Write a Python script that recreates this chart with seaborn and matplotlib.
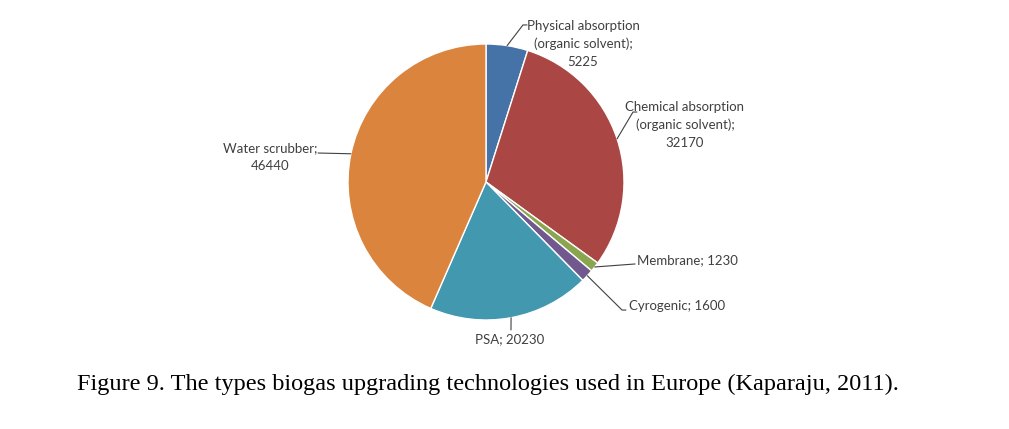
import matplotlib
matplotlib.use("Agg")

import matplotlib.pyplot as plt
import seaborn as sns
import numpy as np


# ==================================================
# Data
# ==================================================

labels = [
    "Physical absorption\n(organic solvent);\n5225",
    "Chemical absorption\n(organic solvent);\n32170",
    "Membrane; 1230",
    "Cyrogenic; 1600",
    "PSA; 20230",
    "Water scrubber;\n46440",
]

values = [5225, 32170, 1230, 1600, 20230, 46440]

colors = ["#4572A7", "#AA4643", "#89A54E", "#71588F", "#4198AF", "#DB843D"]

caption = (
    "Figure 9. The types biogas upgrading technologies "
    "used in Europe (Kaparaju, 2011)."
)


# ==================================================
# Label layout (pie radius = 1)
# text position, alignment, leader elbow points
# ==================================================

text_pos = [
    (0.703, 1.0),
    (1.442, 0.413),
    (1.094, -0.565),
    (1.036, -0.899),
    (0.174, -1.138),
    (-1.565, 0.181),
]

text_ha = ["center", "center", "left", "left", "center", "center"]

leader_pts = [
    [(0.268, 1.138), (0.297, 1.138)],
    [(1.065, 0.507), (1.094, 0.507)],
    [(1.080, -0.594)],
    [(0.986, -0.928), (1.014, -0.928)],
    [(0.181, -1.072)],
    [(-1.217, 0.210)],
]


# ==================================================
# Figure
# ==================================================

sns.set_theme(style="white")

plt.rcParams["font.family"] = ["Lato", "DejaVu Sans"]

fig = plt.figure(figsize=(10.09, 4.29), dpi=100)

W, H = 1009, 429
cx, cy, r = 486, 182, 138

ax = fig.add_axes([
    (cx - r) / W,
    (H - cy - r) / H,
    2 * r / W,
    2 * r / H
])

wedges, _ = ax.pie(
    values,
    colors=colors,
    startangle=90,
    counterclock=False,
    radius=1,
    wedgeprops=dict(edgecolor="white", linewidth=1.0)
)

ax.set_xlim(-1, 1)
ax.set_ylim(-1, 1)
ax.set_aspect("equal")
ax.axis("off")


# ------------------------------------------
# Labels with leader lines
# ------------------------------------------

text_color = "#404040"

for w, lab, pos, ha, pts in zip(wedges, labels, text_pos, text_ha, leader_pts):

    mid = np.deg2rad((w.theta1 + w.theta2) / 2)

    xs = [np.cos(mid)] + [p[0] for p in pts]
    ys = [np.sin(mid)] + [p[1] for p in pts]

    ax.plot(xs, ys, color=text_color, linewidth=0.8, clip_on=False)

    ax.text(
        pos[0],
        pos[1],
        lab,
        ha=ha,
        va="center",
        fontsize=9.5,
        color=text_color,
        linespacing=1.6,
        clip_on=False
    )


# ------------------------------------------
# Caption
# ------------------------------------------

fig.text(
    487.5 / W,
    1 - 384 / H,
    caption,
    ha="center",
    va="center",
    fontsize=17.5,
    family="Liberation Serif",
    color="black"
)

fig.savefig("out.png", dpi=100, facecolor="white")

plt.close()
